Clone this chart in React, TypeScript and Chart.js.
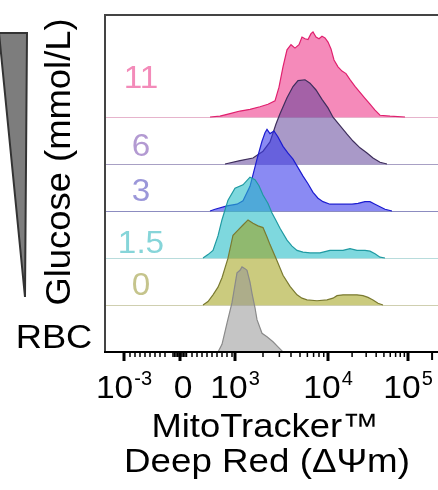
import React, { useEffect, useRef } from "react";
import { Chart, registerables } from "chart.js";

Chart.register(...registerables);

// ---- DATA (x = display channel of the biexponential axis, y = % of mode) ----
const groupNames = ["RBC", "0", "1.5", "3", "6", "11"];

const rbcChannel = [113, 117, 122, 127, 132, 135, 137, 140, 142, 145, 147, 150, 152, 157, 162, 168, 173, 178];
const rbcPct = [0, 9, 34, 58, 93, 96, 100, 98, 96, 82, 69, 52, 38, 22, 18, 12, 6, 0];

const g0Channel = [98, 103, 108, 113, 117, 123, 128, 133, 138, 143, 148, 153, 158, 162, 165, 172, 178, 185, 192, 197, 202, 212, 222, 228, 232, 238, 245, 252, 258, 263, 268, 273, 278];
const g0Pct = [0, 4, 12, 21, 32, 55, 82, 88, 94, 100, 96, 93, 91, 80, 71, 52, 35, 22, 12, 8, 6, 5, 6, 8, 11, 12, 12, 12, 11, 9, 6, 2, 0];

const g15Channel = [98, 103, 108, 113, 117, 123, 130, 138, 145, 150, 154, 158, 163, 167, 171, 175, 182, 187, 192, 198, 205, 215, 225, 232, 238, 245, 252, 260, 265, 270, 275, 280];
const g15Pct = [0, 4, 9, 26, 45, 68, 82, 86, 95, 92, 85, 74, 64, 53, 44, 35, 21, 14, 9, 7, 6, 6, 9, 9, 9, 11, 9, 9, 8, 5, 1, 0];

const g3Channel = [105, 110, 122, 132, 138, 145, 152, 157, 160, 162, 165, 169, 173, 178, 183, 188, 193, 198, 203, 208, 213, 218, 225, 232, 240, 247, 253, 260, 265, 270, 275, 280, 287];
const g3Pct = [0, 2, 6, 8, 12, 29, 61, 82, 92, 96, 91, 94, 87, 76, 68, 61, 51, 41, 32, 22, 15, 11, 8, 8, 8, 8, 9, 11, 11, 8, 5, 2, 0];

const g6Channel = [120, 135, 148, 158, 165, 171, 175, 182, 188, 193, 200, 205, 211, 217, 223, 228, 235, 242, 248, 255, 262, 268, 275, 282];
const g6Pct = [0, 4, 7, 15, 26, 47, 59, 78, 91, 98, 99, 95, 87, 76, 66, 55, 45, 35, 27, 19, 13, 7, 2, 0];

const g11Channel = [105, 115, 125, 135, 145, 155, 163, 170, 174, 178, 182, 186, 190, 194, 197, 200, 203, 206, 208, 211, 214, 217, 220, 223, 226, 229, 233, 237, 241, 245, 250, 255, 260, 265, 270, 275, 285, 300];
const g11Pct = [0, 1, 4, 7, 9, 12, 15, 19, 35, 59, 79, 85, 81, 85, 94, 92, 91, 98, 100, 94, 92, 95, 93, 88, 80, 67, 59, 54, 51, 44, 36, 29, 22, 15, 8, 2, 1, 0];

const tickChannels = [19, 75, 130, 223, 303];
const tickBases = ["10", "0", "10", "10", "10"];
const tickExps = ["-3", "", "3", "4", "5"];

const yTitle = "Glucose (mmol/L)";
const xTitle = ["MitoTracker™", "Deep Red (ΔΨm)"];

// ---- STYLE ----
const FONT = '"Liberation Sans", Arial, Helvetica, sans-serif';
const F = (s: number) => `${s}px ${FONT}`;
const X_MAX = 333;
const Y_MAX = 7.17;
const PEAK_UNITS = 1.81;

const styles = [
  { fill: "rgba(150,150,150,0.55)", line: "#8a8a8a", base: "#d8d8d8", label: "#000000", lift: 0 },
  { fill: "rgba(160,160,20,0.55)", line: "#7a7a30", base: "#cfcfb0", label: "#c5c48c", lift: 10 },
  { fill: "rgba(40,190,200,0.6)", line: "#1f9aa2", base: "#b8dcdc", label: "#86d5d9", lift: 5 },
  { fill: "rgba(60,60,235,0.6)", line: "#1c1cd0", base: "#8c8cc0", label: "#9b97d9", lift: 10 },
  { fill: "rgba(90,60,150,0.52)", line: "#3e2e5c", base: "#a8a0c4", label: "#b39ad2", lift: 8 },
  { fill: "rgba(238,60,140,0.6)", line: "#e0206e", base: "#e6b4cc", label: "#f38bb9", lift: 29 },
];

const channels = [rbcChannel, g0Channel, g15Channel, g3Channel, g6Channel, g11Channel];
const pcts = [rbcPct, g0Pct, g15Pct, g3Pct, g6Pct, g11Pct];

function stretchedText(ctx: CanvasRenderingContext2D, text: string, x: number, y: number, sx: number) {
  ctx.save();
  ctx.translate(x, y);
  ctx.scale(sx, 1);
  ctx.fillText(text, 0, 0);
  ctx.restore();
}

const decor = {
  id: "decor",
  beforeDatasetsDraw(chart: any) {
    const { ctx, chartArea: a, scales } = chart;
    const ys = scales.y;
    ctx.save();
    for (let k = 1; k < groupNames.length; k++) {
      const y = Math.round(ys.getPixelForValue(k)) + 0.5;
      ctx.strokeStyle = styles[k].base;
      ctx.lineWidth = 1.2;
      ctx.beginPath();
      ctx.moveTo(a.left, y);
      ctx.lineTo(a.right, y);
      ctx.stroke();
    }
    ctx.restore();
  },
  afterDraw(chart: any) {
    const { ctx, chartArea: a, scales } = chart;
    const xs = scales.x;
    const ys = scales.y;
    ctx.save();
    // frame
    ctx.strokeStyle = "#444";
    ctx.lineWidth = 2;
    ctx.beginPath();
    ctx.moveTo(a.right, a.top);
    ctx.lineTo(a.left, a.top);
    ctx.lineTo(a.left, a.bottom);
    ctx.stroke();
    ctx.strokeStyle = "#000";
    ctx.beginPath();
    ctx.moveTo(a.left - 1, a.bottom);
    ctx.lineTo(a.right, a.bottom);
    ctx.stroke();

    // minor ticks
    const minor: number[] = [];
    for (let c = 25; c <= 60; c += 5) minor.push(c);
    for (let c = 68; c <= 82; c += 1.5) minor.push(c);
    for (let c = 87; c <= 127; c += 5) minor.push(c);
    for (let n = 2; n <= 9; n++) {
      minor.push(tickChannels[2] + Math.log10(n) * (tickChannels[3] - tickChannels[2]));
      minor.push(tickChannels[3] + Math.log10(n) * (tickChannels[4] - tickChannels[3]));
    }
    ctx.strokeStyle = "#000";
    ctx.lineWidth = 1.5;
    for (const c of minor) {
      const x = xs.getPixelForValue(c);
      ctx.beginPath();
      ctx.moveTo(x, a.bottom);
      ctx.lineTo(x, a.bottom + 5);
      ctx.stroke();
    }
    const extra = xs.getPixelForValue(tickChannels[4] + Math.log10(2) * (tickChannels[4] - tickChannels[3]));
    ctx.lineWidth = 2;
    ctx.beginPath();
    ctx.moveTo(extra, a.bottom);
    ctx.lineTo(extra, a.bottom + 8);
    ctx.stroke();
    ctx.lineWidth = 3;
    for (const c of tickChannels) {
      const x = xs.getPixelForValue(c);
      ctx.beginPath();
      ctx.moveTo(x, a.bottom);
      ctx.lineTo(x, a.bottom + 9);
      ctx.stroke();
    }

    // tick labels with superscripts
    ctx.fillStyle = "#000";
    ctx.textBaseline = "alphabetic";
    ctx.textAlign = "left";
    tickChannels.forEach((c, i) => {
      const cx = xs.getPixelForValue(c);
      ctx.font = F(32);
      const w1 = ctx.measureText(tickBases[i]).width * 1.05;
      ctx.font = F(20);
      const w2 = tickExps[i] ? ctx.measureText(tickExps[i]).width + 1 : 0;
      const left = cx - (w1 + w2) / 2 + (tickExps[i] ? 0 : 3);
      ctx.font = F(32);
      stretchedText(ctx, tickBases[i], left, a.bottom + 46, 1.05);
      if (tickExps[i]) {
        ctx.font = F(20);
        ctx.fillText(tickExps[i], left + w1 + 1, a.bottom + 33);
      }
    });

    // x title
    ctx.textAlign = "center";
    ctx.font = F(34);
    stretchedText(ctx, xTitle[0], 265, a.bottom + 85, 1.07);
    stretchedText(ctx, xTitle[1], 267, a.bottom + 120, 1.08);

    // group labels
    ctx.font = F(32);
    for (let k = 1; k < groupNames.length; k++) {
      ctx.fillStyle = styles[k].label;
      stretchedText(ctx, groupNames[k], 141, ys.getPixelForValue(k) - styles[k].lift, 1.04);
    }
    ctx.fillStyle = "#000";
    ctx.font = F(33);
    stretchedText(ctx, groupNames[0], 54, ys.getPixelForValue(0) - 4, 1.1);

    // y title (rotated)
    ctx.save();
    ctx.translate(70, 162);
    ctx.rotate(-Math.PI / 2);
    ctx.scale(1.04, 1);
    ctx.font = F(35);
    ctx.fillText(yTitle, 0, 0);
    ctx.restore();

    // wedge
    ctx.beginPath();
    ctx.moveTo(-1, 33);
    ctx.lineTo(27, 33);
    ctx.lineTo(25, 297);
    ctx.closePath();
    ctx.fillStyle = "#7d7d7d";
    ctx.fill();
    ctx.strokeStyle = "#333";
    ctx.lineWidth = 2;
    ctx.lineJoin = "miter";
    ctx.stroke();
    ctx.restore();
  },
};

export default function App() {
  const ref = useRef<HTMLCanvasElement | null>(null);
  useEffect(() => {
    if (!ref.current) return;
    const datasets = groupNames.map((name, k) => ({
      label: name,
      data: channels[k].map((c, i) => ({ x: c, y: k + (pcts[k][i] / 100) * PEAK_UNITS })),
      fill: { value: k },
      backgroundColor: styles[k].fill,
      borderColor: styles[k].line,
      borderWidth: 1.2,
      pointRadius: 0,
      tension: 0,
    }));
    const chart = new Chart(ref.current, {
      type: "line",
      data: { datasets },
      options: {
        responsive: false,
        animation: false,
        devicePixelRatio: 1,
        layout: { padding: { left: 105, top: 15, right: 0, bottom: 138 } },
        plugins: { legend: { display: false }, tooltip: { enabled: false } },
        scales: {
          x: { type: "linear", display: false, min: 0, max: X_MAX },
          y: { type: "linear", display: false, min: 0, max: Y_MAX },
        },
      },
      plugins: [decor],
    } as any);
    return () => chart.destroy();
  }, []);
  return (
    <div style={{ position: "fixed", left: 0, top: 0, width: 438, height: 490, background: "#fff" }}>
      <canvas ref={ref} width={438} height={490} style={{ display: "block" }} />
    </div>
  );
}
